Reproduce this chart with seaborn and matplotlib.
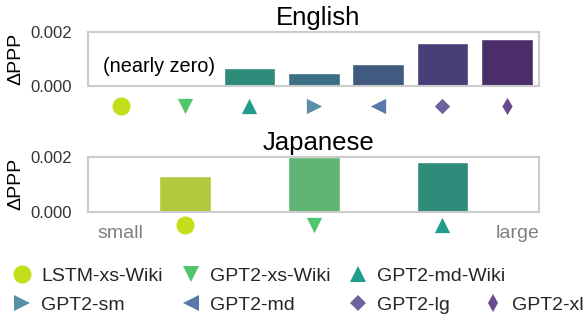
import numpy as np
import pandas as pd
import matplotlib
matplotlib.use("Agg")
import matplotlib.pyplot as plt
import matplotlib.transforms as mtransforms
from matplotlib.lines import Line2D
import seaborn as sns

# data
models = ["LSTM-xs-Wiki", "GPT2-xs-Wiki", "GPT2-md-Wiki", "GPT2-sm", "GPT2-md", "GPT2-lg", "GPT2-xl"]
en_ppp = [0.00006, 0.0, 0.00069, 0.00051, 0.00084, 0.00159, 0.00176]
ja_models = ["LSTM-xs-Wiki", "GPT2-xs-Wiki", "GPT2-md-Wiki"]
ja_ppp = [0.00132, 0.00200, 0.00183]
# japanese bars sit in every other slot of the same 7-slot axis
ja_order = ["pad0", "LSTM-xs-Wiki", "pad2", "GPT2-xs-Wiki", "pad4", "GPT2-md-Wiki", "pad6"]
ytick_vals = [0.0, 0.002]
ytick_labels = ["0.000", "0.002"]

# styles
marker_of = {"LSTM-xs-Wiki": "o", "GPT2-xs-Wiki": "v", "GPT2-md-Wiki": "^", "GPT2-sm": ">",
             "GPT2-md": "<", "GPT2-lg": "D", "GPT2-xl": "d"}
msize_of = {"LSTM-xs-Wiki": 13, "GPT2-xs-Wiki": 11, "GPT2-md-Wiki": 11, "GPT2-sm": 11,
            "GPT2-md": 11, "GPT2-lg": 7.8, "GPT2-xl": 8.7}
mcolor_of = {"LSTM-xs-Wiki": "#c3df1c", "GPT2-xs-Wiki": "#50c56b", "GPT2-md-Wiki": "#1f9d8a",
             "GPT2-sm": "#5891a7", "GPT2-md": "#5a78aa", "GPT2-lg": "#6b64a0", "GPT2-xl": "#6b4b8c"}
bar_color_of = {"LSTM-xs-Wiki": "#b3c83c", "GPT2-xs-Wiki": "#5fb573", "GPT2-md-Wiki": "#2e8b7a",
                "GPT2-sm": "#3a6f85", "GPT2-md": "#405a80", "GPT2-lg": "#463f78", "GPT2-xl": "#4b2d6a"}

sns.set_theme(style="whitegrid")
plt.rcParams["font.family"] = ["Liberation Sans", "DejaVu Sans"]

fig = plt.figure(figsize=(5.84, 3.16), dpi=100)
ax_en = fig.add_axes([0.1515, 0.7263, 0.7715, 0.1725])
ax_ja = fig.add_axes([0.1515, 0.330, 0.7715, 0.173])

en_df = pd.DataFrame({"model": models, "ppp": en_ppp})
ja_df = pd.DataFrame({"model": ja_models, "ppp": ja_ppp})

sns.barplot(data=en_df, x="model", y="ppp", hue="model", order=models,
            palette=bar_color_of, saturation=1, width=0.8, edgecolor="white",
            linewidth=1, legend=False, ax=ax_en)
sns.barplot(data=ja_df, x="model", y="ppp", hue="model", order=ja_order,
            palette={m: bar_color_of[m] for m in ja_models}, saturation=1, width=0.8,
            edgecolor="white", linewidth=1, legend=False, ax=ax_ja)


def draw_markers(ax, order, names, y):
    trans = mtransforms.blended_transform_factory(ax.transData, ax.transAxes)
    for name in names:
        ax.scatter(order.index(name), y, marker=marker_of[name], s=msize_of[name] ** 2,
                   color=mcolor_of[name], linewidths=0, transform=trans,
                   clip_on=False, zorder=3)


draw_markers(ax_en, models, models, -0.367)
draw_markers(ax_ja, ja_order, ja_models, -0.25)

for ax, title in [(ax_en, "English"), (ax_ja, "Japanese")]:
    ax.set_xlim(-0.5, 6.5)
    ax.set_ylim(0, 0.002)
    ax.set_yticks(ytick_vals)
    ax.set_yticklabels(ytick_labels)
    ax.set_xticks([])
    ax.set_xlabel("")
    ax.set_ylabel("ΔPPP", fontsize=14, labelpad=4, color="black")
    ax.set_title(title, fontsize=18.5, pad=5, x=0.51, color="black")
    ax.grid(False)
    ax.tick_params(axis="y", length=0, pad=12, labelsize=12, labelcolor="#333333")
    for sp in ax.spines.values():
        sp.set_color("#cccccc")
        sp.set_linewidth(1.5)

ax_en.text(0.6, 0.00075, "(nearly zero)", ha="center", va="center", fontsize=14.3, color="black")
ja_trans = mtransforms.blended_transform_factory(ax_ja.transData, ax_ja.transAxes)
ax_ja.text(0, -0.39, "small", transform=ja_trans, ha="center", va="center",
           fontsize=14, color="#808080")
ax_ja.text(6.5, -0.39, "large", transform=ja_trans, ha="right", va="center",
           fontsize=14, color="#808080")


def handle(name):
    return Line2D([], [], linestyle="none", marker=marker_of[name], markersize=msize_of[name],
                  markerfacecolor=mcolor_of[name], markeredgewidth=0, label=name)


# main legend: 3 columns, filled column-wise
main_order = ["LSTM-xs-Wiki", "GPT2-sm", "GPT2-xs-Wiki", "GPT2-md", "GPT2-md-Wiki", "GPT2-lg"]
leg_kw = dict(loc="upper left", frameon=False, fontsize=14, borderpad=0, borderaxespad=0,
              handlelength=1.0, handletextpad=0.48, labelspacing=0.55)
fig.legend(handles=[handle(m) for m in main_order], ncol=3, columnspacing=0.94,
           bbox_to_anchor=(0.021, 0.153), **leg_kw)
blank = Line2D([], [], linestyle="none", label=" ")
fig.legend(handles=[blank, handle("GPT2-xl")], ncol=1,
           bbox_to_anchor=(0.828, 0.153), **leg_kw)

fig.savefig("out.png", dpi=100)
